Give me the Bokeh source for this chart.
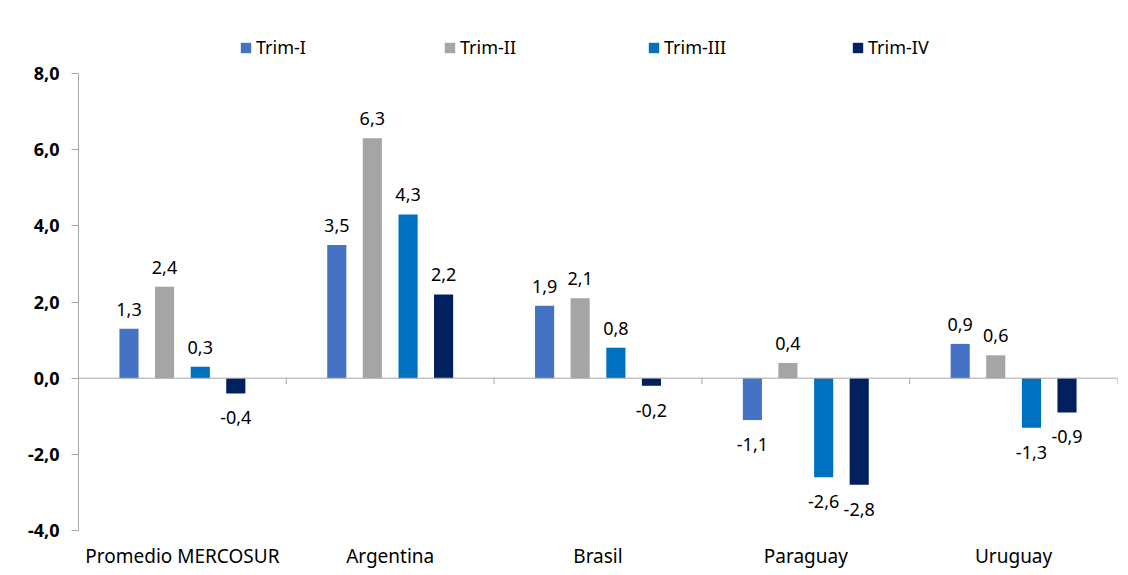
from bokeh.plotting import figure
from bokeh.models import ColumnDataSource, FixedTicker, Span, Legend, LegendItem
from bokeh.transform import dodge
from bokeh.core.properties import value
from bokeh.embed import file_html
from bokeh.resources import INLINE

countries = ["Promedio MERCOSUR", "Argentina", "Brasil", "Paraguay", "Uruguay"]
series_names = ["Trim-I", "Trim-II", "Trim-III", "Trim-IV"]
trim_1 = [1.3, 3.5, 1.9, -1.1, 0.9]
trim_2 = [2.4, 6.3, 2.1, 0.4, 0.6]
trim_3 = [0.3, 4.3, 0.8, -2.6, -1.3]
trim_4 = [-0.4, 2.2, -0.2, -2.8, -0.9]
y_ticks = [-4, -2, 0, 2, 4, 6, 8]
y_tick_labels = ["-4,0", "-2,0", "0,0", "2,0", "4,0", "6,0", "8,0"]

colors = ["#4472C4", "#A5A5A5", "#0070C0", "#002060"]
FONT = "Noto Sans"

Y_MIN, Y_MAX = -4, 8
AXIS_PX = 457          # pixel height of the -4..8 axis
EXTRA_PX = 44          # room above the axis for the legend
y_top = Y_MAX + EXTRA_PX * (Y_MAX - Y_MIN) / AXIS_PX

p = figure(x_range=countries, y_range=(Y_MIN, y_top), width=1126, height=573,
           output_backend="svg", toolbar_location=None,
           min_border_left=78, min_border_right=9, min_border_top=29, min_border_bottom=43)
p.x_range.range_padding = 0
p.outline_line_color = None
p.xgrid.grid_line_color = None
p.ygrid.grid_line_color = None

offsets = [-0.257, -0.086, 0.086, 0.257]
items = []
for name, vals, col, off in zip(series_names, [trim_1, trim_2, trim_3, trim_4], colors, offsets):
    labels = [f"{v:.1f}".replace(".", ",") for v in vals]
    src = ColumnDataSource(dict(
        x=countries, y=vals, label=labels,
        base=["bottom" if v >= 0 else "top" for v in vals],
        yoff=[-13 if v >= 0 else 18 for v in vals],
    ))
    r = p.vbar(x=dodge("x", off, range=p.x_range), top="y", bottom=0, width=0.092,
               source=src, fill_color=col, line_color=None)
    p.text(x=dodge("x", off, range=p.x_range), y="y", text="label", source=src,
           text_align="center", text_baseline="base", y_offset="yoff",
           text_font=value(FONT), text_font_size="18px", text_color="#000000")
    items.append(LegendItem(label=name, renderers=[r]))

# zero line and category dividers
p.add_layout(Span(location=0, dimension="width", line_color="#A6A6A6", line_width=1))
div_src = ColumnDataSource(dict(x=countries, y0=[0] * len(countries), y1=[-0.16] * len(countries)))
p.segment(x0=dodge("x", 0.5, range=p.x_range), x1=dodge("x", 0.5, range=p.x_range),
          y0="y0", y1="y1", source=div_src, line_color="#A6A6A6", line_width=1)

# axes
p.yaxis.ticker = FixedTicker(ticks=y_ticks, minor_ticks=[])
p.yaxis.bounds = (Y_MIN, Y_MAX)
p.yaxis.major_label_overrides = {t: l for t, l in zip(y_ticks, y_tick_labels)}
p.yaxis.axis_line_color = "#A6A6A6"
p.yaxis.major_tick_line_color = "#A6A6A6"
p.yaxis.major_tick_in = 0
p.yaxis.major_tick_out = 7
p.yaxis.minor_tick_line_color = None
p.yaxis.major_label_text_font = FONT
p.yaxis.major_label_text_font_style = "bold"
p.yaxis.major_label_text_font_size = "18px"
p.yaxis.major_label_text_color = "#000000"
p.yaxis.major_label_standoff = 12

p.xaxis.axis_line_color = None
p.xaxis.major_tick_line_color = None
p.xaxis.minor_tick_line_color = None
p.xaxis.major_label_text_font = FONT
p.xaxis.major_label_text_font_size = "19px"
p.xaxis.major_label_text_color = "#000000"
p.xaxis.major_label_standoff = 6

legend = Legend(items=items, orientation="horizontal", location=(161, 471),
                label_text_font=FONT, label_text_font_size="18px", label_text_color="#000000",
                glyph_width=13, glyph_height=13, label_standoff=4, label_width=177, spacing=10,
                border_line_color=None, background_fill_alpha=0, padding=0, margin=0)
p.add_layout(legend, "center")

open("out.html", "w").write(file_html(p, INLINE))
